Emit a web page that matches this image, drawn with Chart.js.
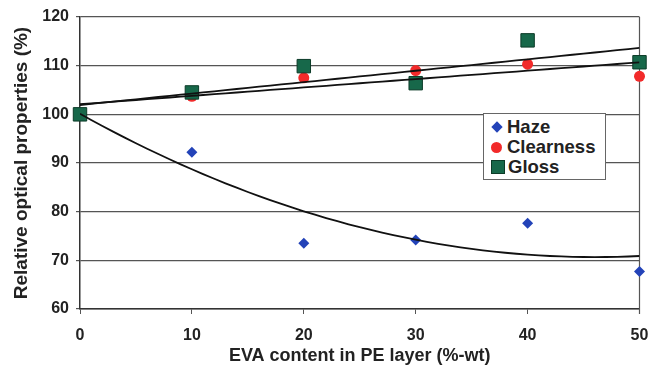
<!DOCTYPE html>
<html>
<head>
<meta charset="utf-8">
<script src="https://cdn.jsdelivr.net/npm/chart.js@4/dist/chart.umd.min.js"></script>
<style>
  body { margin: 0; background: #fff; }
  #wrap { position: relative; width: 650px; height: 371px; }
  #legend {
    position: absolute; left: 483px; top: 113px; width: 123px; height: 67px;
    border: 1px solid #666; background: #fff; box-sizing: border-box;
    font: bold 18.5px "Liberation Sans", Arial, sans-serif; color: #222;
    padding: 3px 0 0 7px; line-height: 20px;
  }
  #legend div { display: flex; align-items: center; }
  #legend span.m { display: inline-block; }
</style>
</head>
<body>
<div id="wrap">
  <canvas id="c" width="650" height="371"></canvas>
  <div id="legend">
    <div><span class="m" style="width:8px;height:8px;background:#2343b8;transform:rotate(45deg);margin:0 6px 0 2px"></span>Haze</div>
    <div><span class="m" style="width:11px;height:11px;border-radius:50%;background:#f22a2a;margin:0 5px 0 0"></span>Clearness</div>
    <div><span class="m" style="width:12px;height:12px;background:#17684a;border:1px solid #0c3b28;margin:0 3px 0 0"></span>Gloss</div>
  </div>
</div>
<script>
// Data
const evaContent = [0, 10, 20, 30, 40, 50];
const haze = [100, 92.2, 73.5, 74.2, 77.6, 67.7];
const clearness = [100, 103.7, 107.5, 109.0, 110.3, 107.8];
const gloss = [100, 104.5, 109.9, 106.4, 115.2, 110.7];
const yTicks = [60, 70, 80, 90, 100, 110, 120];

// least squares polynomial fit (like spreadsheet trendlines)
function polyFit(xs, ys, order) {
    const n = order + 1;
    const A = [];
    for (let i = 0; i < n; i++) {
        A.push(new Array(n + 1).fill(0));
        for (let j = 0; j < n; j++) {
            A[i][j] = xs.reduce((s, x) => s + Math.pow(x, i + j), 0);
        }
        A[i][n] = xs.reduce((s, x, k) => s + Math.pow(x, i) * ys[k], 0);
    }
    for (let i = 0; i < n; i++) {
        for (let k = i + 1; k < n; k++) {
            const f = A[k][i] / A[i][i];
            for (let j = i; j <= n; j++) A[k][j] -= f * A[i][j];
        }
    }
    const c = new Array(n).fill(0);
    for (let i = n - 1; i >= 0; i--) {
        let s = A[i][n];
        for (let j = i + 1; j < n; j++) s -= A[i][j] * c[j];
        c[i] = s / A[i][i];
    }
    return c;
}

function trend(ys, order) {
    const c = polyFit(evaContent, ys, order);
    const pts = [];
    for (let x = 0; x <= 50; x += 1) {
        pts.push({ x: x, y: c.reduce((s, v, i) => s + v * Math.pow(x, i), 0) });
    }
    return pts;
}

const toXY = ys => evaContent.map((x, i) => ({ x: x, y: ys[i] }));

const rightBorder = {
    id: 'rightBorder',
    beforeDatasetsDraw(chart) {
        const a = chart.chartArea, ctx = chart.ctx;
        ctx.save();
        ctx.strokeStyle = '#555';
        ctx.lineWidth = 1.2;
        ctx.beginPath();
        ctx.moveTo(a.right, a.top);
        ctx.lineTo(a.right, a.bottom + 5);
        ctx.stroke();
        ctx.restore();
    }
};

const trendStyle = { type: 'line', borderColor: '#111', borderWidth: 1.8, pointRadius: 0, fill: false, tension: 0, order: 0 };
const tickFont = { family: 'Liberation Sans', size: 16, weight: 'bold' };

new Chart(document.getElementById('c'), {
    type: 'scatter',
    data: {
        datasets: [
            { label: 'Haze', data: toXY(haze), pointStyle: 'rectRot', pointRadius: 5.5, clip: false, order: 3,
              backgroundColor: '#2343b8', borderColor: '#2343b8', borderWidth: 0 },
            { label: 'Clearness', data: toXY(clearness), pointStyle: 'circle', pointRadius: 5.5, clip: false, order: 2,
              backgroundColor: '#f22a2a', borderColor: '#f22a2a', borderWidth: 0 },
            { label: 'Gloss', data: toXY(gloss), pointStyle: 'rect', pointRadius: 9.5, clip: false, order: 1,
              backgroundColor: '#17684a', borderColor: '#0c3b28', borderWidth: 1 },
            Object.assign({ data: trend(gloss, 1) }, trendStyle),
            Object.assign({ data: trend(clearness, 1) }, trendStyle),
            Object.assign({ data: trend(haze, 2) }, trendStyle)
        ]
    },
    options: {
        responsive: false,
        animation: false,
        layout: { padding: { top: 17, right: 10, left: 6, bottom: 0 } },
        plugins: { legend: { display: false }, tooltip: { enabled: false } },
        scales: {
            x: {
                type: 'linear', min: 0, max: 50,
                ticks: { stepSize: 10, color: '#222', font: tickFont, padding: 12 },
                grid: { drawOnChartArea: false, drawTicks: true, tickLength: 5, color: '#555' },
                border: { color: '#333', width: 1.5 },
                title: { display: true, text: 'EVA content in PE layer (%-wt)', color: '#222',
                         font: { family: 'Liberation Sans', size: 18, weight: 'bold' }, padding: { top: 0 } },
                afterFit: s => { s.height = 62; s.paddingRight = 0; s.paddingLeft = 0; }
            },
            y: {
                min: 60, max: 120,
                afterBuildTicks: s => { s.ticks = yTicks.map(v => ({ value: v })); },
                ticks: { color: '#222', font: tickFont, padding: 7 },
                grid: { color: '#555', lineWidth: 1.2, tickLength: 4 },
                border: { color: '#333', width: 1.5 },
                title: { display: true, text: 'Relative optical properties (%)', color: '#222',
                         font: { family: 'Liberation Sans', size: 19, weight: 'bold' }, padding: { bottom: 0 } },
                afterFit: s => { s.width = 74; }
            }
        }
    },
    plugins: [rightBorder]
});
</script>
</body>
</html>
